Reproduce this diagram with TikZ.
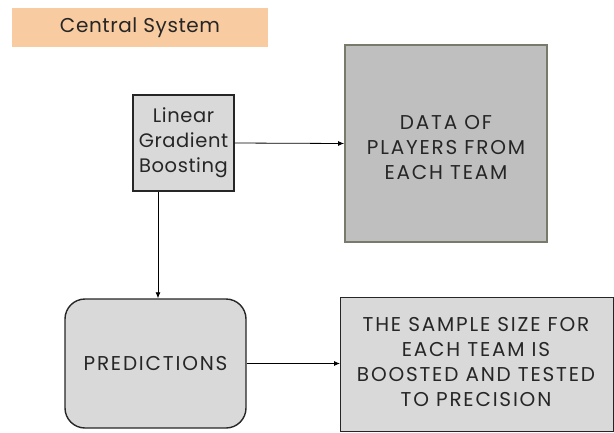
\documentclass[tikz,border=0pt]{standalone}
\usepackage{fontspec}
\setmainfont{Poppins}
\usetikzlibrary{arrows.meta}
\definecolor{peach}{HTML}{F8CBA0}
\definecolor{lightbox}{HTML}{D9D9D9}
\definecolor{midbox}{HTML}{BFBFBF}
\definecolor{olivegray}{HTML}{7A7A6A}
\definecolor{ink}{HTML}{262626}
\newfontfamily\capsfont[LetterSpace=9]{Poppins}
\newfontfamily\lowfont[LetterSpace=3]{Poppins}
\tikzset{
  every node/.style={text=ink, align=center},
  lowtext/.style={font=\lowfont\fontsize{19.5}{25}\selectfont},
  captext/.style={font=\capsfont\fontsize{20}{25}\selectfont},
  titlebox/.style={fill=peach, minimum width=256pt, minimum height=39pt, inner sep=0pt, font=\lowfont\fontsize{20}{25}\selectfont},
  plainbox/.style={fill=lightbox, draw=ink, line width=1.4pt, inner sep=0pt},
  darkbox/.style={fill=midbox, draw=olivegray, line width=1.8pt, inner sep=0pt},
  roundbox/.style={fill=lightbox, draw=ink, line width=1.4pt, rounded corners=20pt, inner sep=0pt},
  samplebox/.style={fill=lightbox, draw=ink, line width=1pt, inner sep=0pt},
  link/.style={draw=black, line width=0.8pt, -{Latex[length=6pt,width=5pt]}}
}
\begin{document}
\begin{tikzpicture}[x=1pt,y=-1pt]
  \useasboundingbox (0,0) rectangle (614,432);
  % title banner
  \node[titlebox] (title) at (140,27.5) {Central System};
  % model box
  \node[plainbox, lowtext, minimum width=101pt, minimum height=96pt] (lgb) at (183.5,143) {Linear\\Gradient\\Boosting};
  % input data box
  \node[darkbox, minimum width=202pt, minimum height=197pt] (data) at (446,143.5) {};
  \node[captext] (datatext) at (446,148) {DATA OF\\PLAYERS FROM\\EACH TEAM};
  % predictions
  \node[roundbox, captext, minimum width=181pt, minimum height=129pt] (pred) at (155.5,363.5) {PREDICTIONS};
  % result box, running down to the lower edge
  \node[samplebox, minimum width=273pt, minimum height=134pt, anchor=north west] (sample) at (340,297) {};
  \node[captext] (sampletext) at (476,362) {THE SAMPLE SIZE FOR\\EACH TEAM IS\\BOOSTED AND TESTED\\TO PRECISION};
  % connectors
  \draw[link] (lgb.east) -- (data.west);
  \draw[link] (lgb.south -| 158,0) -- (pred.north -| 158,0);
  \draw[link] (pred.east) -- (pred.east -| sample.west);
\end{tikzpicture}
\end{document}
